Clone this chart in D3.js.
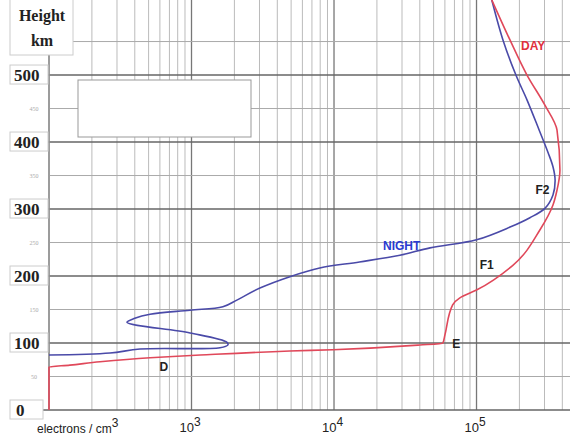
<!DOCTYPE html>
<html>
<head>
<meta charset="utf-8">
<script src="https://cdn.jsdelivr.net/npm/d3@7"></script>
<style>
  body { margin: 0; background: #fff; }
  svg { display: block; }
</style>
</head>
<body>
<svg id="chart" width="570" height="437"></svg>
<script>
// electron density profiles (km, electrons / cm3)
const dayHeight = [0, 64, 67, 72, 78, 82, 88, 90, 97, 100, 112, 157, 167, 179, 216, 269, 306, 328, 358, 418, 455, 500, 552, 612];
const dayDensity = [100, 100, 140, 228, 512, 1150, 4900, 9800, 40000, 58000, 60000, 68000, 76000, 100000, 180000, 279000, 344000, 367000, 385000, 367000, 302000, 226000, 172000, 128000];

const nightHeight = [82, 85, 91, 93, 97, 101, 115, 131, 137, 143, 149, 154, 164, 182, 199, 212, 221, 231, 242, 254, 273, 287, 301, 321, 343, 363, 384, 418, 463, 500, 552, 612];
const nightDensity = [100, 268, 435, 1585, 1800, 1775, 977, 352, 400, 512, 977, 1660, 2080, 3020, 4900, 7940, 15100, 29000, 47200, 100000, 172000, 237000, 302000, 344000, 356000, 344000, 318000, 275000, 226000, 189000, 153500, 128000];

const majorHeights = [0, 100, 200, 300, 400, 500];
const minorHeights = [50, 150, 250, 350, 450, 550];
const decadeLabels = [{v: 1e3, exp: "3"}, {v: 1e4, exp: "4"}, {v: 1e5, exp: "5"}];

const layerLabels = [
    {text: "D", n: 640, h: 66},
    {text: "E", n: 72000, h: 100},
    {text: "F1", n: 118000, h: 218},
    {text: "F2", n: 290000, h: 330}
];

const svg = d3.select("#chart");

const x = d3.scaleLog().domain([100, Math.pow(10, 5.656)]).range([49, 570]);
const y = d3.scaleLinear().domain([0, 612]).range([410, 0]);

const isDecade = d => Math.abs(Math.log10(d) % 1) < 1e-9;

// vertical grid
const vticks = x.ticks().filter(d => d < x.domain()[1]);
svg.append("g")
    .selectAll("line")
    .data(vticks)
    .enter().append("line")
    .attr("x1", d => x(d)).attr("x2", d => x(d))
    .attr("y1", y(0)).attr("y2", 0)
    .attr("stroke", d => isDecade(d) ? "#777" : "#bbb")
    .attr("stroke-width", d => isDecade(d) ? 1.3 : 1);

// horizontal grid
svg.append("g")
    .selectAll("line")
    .data(minorHeights)
    .enter().append("line")
    .attr("x1", 49).attr("x2", 570)
    .attr("y1", d => y(d)).attr("y2", d => y(d))
    .attr("stroke", "#aaa");

svg.append("g")
    .selectAll("line")
    .data(majorHeights)
    .enter().append("line")
    .attr("x1", 38).attr("x2", 570)
    .attr("y1", d => y(d)).attr("y2", d => y(d))
    .attr("stroke", "#666")
    .attr("stroke-width", 1.4);

// left axis line
svg.append("line")
    .attr("x1", 49).attr("x2", 49)
    .attr("y1", y(0)).attr("y2", 0)
    .attr("stroke", "#999").attr("stroke-width", 1.5);

// empty legend box
svg.append("rect")
    .attr("x", 78).attr("y", 80)
    .attr("width", 173).attr("height", 57)
    .attr("fill", "#fff").attr("stroke", "#999");

// height label box
svg.append("rect")
    .attr("x", 10).attr("y", -1)
    .attr("width", 63).attr("height", 56)
    .attr("fill", "#fff").attr("stroke", "#ccc");
svg.append("text")
    .attr("x", 42).attr("y", 21)
    .attr("text-anchor", "middle")
    .style("font", "bold 16px 'Liberation Serif', serif")
    .attr("fill", "#222")
    .text("Height");
svg.append("text")
    .attr("x", 42).attr("y", 46)
    .attr("text-anchor", "middle")
    .style("font", "bold 16px 'Liberation Serif', serif")
    .attr("fill", "#222")
    .text("km");

// major height labels
const majorG = svg.append("g")
    .selectAll("g")
    .data(majorHeights)
    .enter().append("g");
majorG.append("rect")
    .attr("x", 10).attr("y", d => y(d) - 10)
    .attr("width", d => d === 0 ? 33 : 38).attr("height", 19)
    .attr("fill", "#fff").attr("stroke", "#ccc");
majorG.append("text")
    .attr("x", d => d === 0 ? 16 : 14).attr("y", d => y(d) + 6)
    .style("font", "bold 17px 'Liberation Serif', serif")
    .attr("fill", "#222")
    .text(d => d);

// minor height labels
svg.append("g")
    .selectAll("text")
    .data(minorHeights.filter(d => d < 550))
    .enter().append("text")
    .attr("x", 34).attr("y", d => y(d) + 2)
    .attr("text-anchor", "middle")
    .style("font", "6px 'Liberation Serif', serif")
    .attr("fill", "#aaa")
    .text(d => d);

// curves
const nightLine = d3.line()
    .curve(d3.curveCatmullRom.alpha(0.5))
    .x(d => x(d.n))
    .y(d => y(d.h));
// day profile is single valued in height, so monotone in y avoids wiggles
const dayLine = d3.line()
    .curve(d3.curveMonotoneY)
    .x(d => x(d.n))
    .y(d => y(d.h));

const day = dayHeight.map((h, i) => ({h: h, n: dayDensity[i]}));
const night = nightHeight.map((h, i) => ({h: h, n: nightDensity[i]}));

svg.append("path")
    .datum(night)
    .attr("d", nightLine)
    .attr("fill", "none")
    .attr("stroke", "#4a4aa8")
    .attr("stroke-width", 1.6);

svg.append("path")
    .datum(day)
    .attr("d", dayLine)
    .attr("fill", "none")
    .attr("stroke", "#e0485a")
    .attr("stroke-width", 1.6);

// curve labels
svg.append("text")
    .attr("x", 521).attr("y", 50)
    .style("font", "bold 12px 'Liberation Sans', sans-serif")
    .attr("fill", "#e0303c")
    .text("DAY");
svg.append("text")
    .attr("x", 383).attr("y", 250)
    .style("font", "bold 12px 'Liberation Sans', sans-serif")
    .attr("fill", "#2a3ad0")
    .text("NIGHT");

svg.append("g")
    .selectAll("text")
    .data(layerLabels)
    .enter().append("text")
    .attr("x", d => x(d.n)).attr("y", d => y(d.h) + 5)
    .attr("text-anchor", "middle")
    .style("font", "bold 12px 'Liberation Sans', sans-serif")
    .attr("fill", "#222")
    .text(d => d.text);

// x labels
const xl = svg.append("g")
    .selectAll("text")
    .data(decadeLabels)
    .enter().append("text")
    .attr("x", d => x(d.v) - 12).attr("y", 432)
    .style("font", "13px 'Liberation Sans', sans-serif")
    .attr("fill", "#222");
xl.append("tspan").text("10");
xl.append("tspan").attr("dy", -6).style("font-size", "12px").text(d => d.exp);

const unit = svg.append("text")
    .attr("x", 37).attr("y", 433)
    .style("font", "12px 'Liberation Sans', sans-serif")
    .attr("fill", "#222");
unit.append("tspan").text("electrons / cm");
unit.append("tspan").attr("dy", -6).style("font-size", "12px").text("3");
</script>
</body>
</html>
